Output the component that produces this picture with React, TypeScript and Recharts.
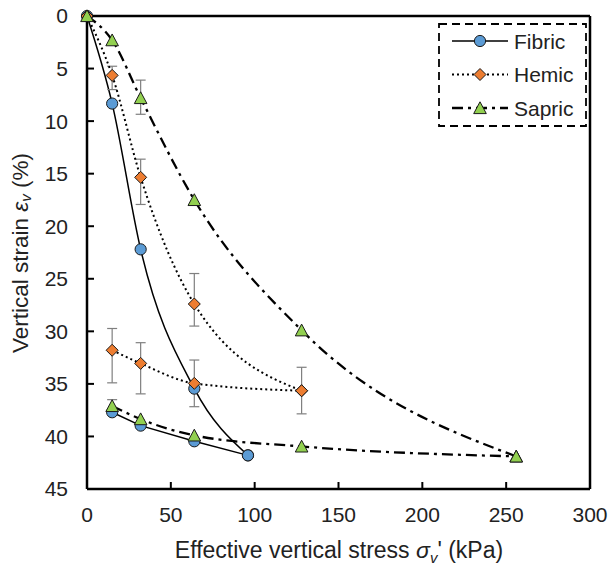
import React from 'react';
import { LineChart, Line, XAxis, YAxis, ErrorBar, ReferenceLine, Legend, Label } from 'recharts';

const FONT = '"Liberation Sans", Arial, sans-serif';
const TEXT = '#222';

const xTicks = [0, 50, 100, 150, 200, 250, 300];
const yTicks = [0, 5, 10, 15, 20, 25, 30, 35, 40, 45];

// Fibric
const fibricLoadX = [0, 15, 32, 64, 96];
const fibricLoadY = [0, 8.33, 22.2, 35.45, 41.8];
const fibricUnloadX = [15, 32, 64, 96];
const fibricUnloadY = [37.7, 38.97, 40.46, 41.8];

// Hemic (with error bars, [below, above])
const hemicLoadX = [0, 15, 32, 64, 128];
const hemicLoadY = [0, 5.65, 15.35, 27.4, 35.65];
const hemicLoadErrLo = [0, 0.87, 1.73, 2.9, 2.23];
const hemicLoadErrHi = [0, 1.35, 2.58, 2.1, 2.2];
const hemicUnloadX = [15, 32, 64, 128];
const hemicUnloadY = [31.8, 33.05, 34.95, 35.65];
const hemicUnloadErrLo = [2.07, 1.97, 2.22, 0];
const hemicUnloadErrHi = [3.1, 2.9, 2.22, 0];

// Sapric
const sapricLoadX = [0, 15, 32, 64, 128, 256];
const sapricLoadY = [0, 2.3, 7.8, 17.5, 29.9, 41.9];
const sapricLoadErrLo = [0, 0, 1.7, 0, 0, 0];
const sapricLoadErrHi = [0, 0, 1.55, 0, 0, 0];
const sapricUnloadX = [15, 32, 64, 128, 256];
const sapricUnloadY = [37.1, 38.35, 39.9, 40.95, 41.9];
const sapricUnloadErrLo = [0.6, 0, 0, 0, 0];
const sapricUnloadErrHi = [0.6, 0, 0, 0, 0];

type Pt = { x: number; y: number; err: number[] | null };

const toPoints = (xs: number[], ys: number[], lo?: number[], hi?: number[]): Pt[] =>
  xs.map((x, i) => ({
    x,
    y: ys[i],
    err: lo && hi && (lo[i] > 0 || hi[i] > 0) ? [lo[i], hi[i]] : null,
  }));

const series = [
  { name: 'Fibric', shape: 'circle', color: '#5B9BD5', dash: undefined, width: 1.5 },
  { name: 'Hemic', shape: 'diamond', color: '#ED7D31', dash: '2 3', width: 2 },
  { name: 'Sapric', shape: 'triangle', color: '#92D050', dash: '11 5 3 5', width: 2.3 },
];

function Marker({ shape, cx, cy, fill }: { shape: string; cx: number; cy: number; fill: string }) {
  const common = { fill, stroke: '#1a1a1a', strokeWidth: 1 };
  if (shape === 'circle') return <circle cx={cx} cy={cy} r={5.6} {...common} />;
  if (shape === 'diamond')
    return <polygon points={`${cx},${cy - 6} ${cx + 6},${cy} ${cx},${cy + 6} ${cx - 6},${cy}`} {...common} />;
  return <polygon points={`${cx},${cy - 6.2} ${cx + 6.3},${cy + 5.6} ${cx - 6.3},${cy + 5.6}`} {...common} />;
}

const dotFor = (i: number) => (p: any) => {
  const s = series[i];
  if (p.cx == null || p.cy == null) return <g key={p.index} />;
  return <Marker key={p.index} shape={s.shape} cx={p.cx} cy={p.cy} fill={s.color} />;
};

function LegendBox() {
  return (
    <svg width={150} height={106} style={{ display: 'block' }}>
      <rect x={1} y={1} width={147} height={102} fill="#fff" stroke="#000" strokeWidth={1.8} strokeDasharray="8 5" />
      {series.map((s, i) => {
        const cy = 18 + i * 33.5;
        return (
          <g key={s.name}>
            <line x1={14} x2={70} y1={cy} y2={cy} stroke="#000" strokeWidth={s.width} strokeDasharray={s.dash} />
            <Marker shape={s.shape} cx={42} cy={cy} fill={s.color} />
            <text x={76} y={cy} dominantBaseline="central" fontSize={21} fontFamily={FONT} fill={TEXT}>
              {s.name}
            </text>
          </g>
        );
      })}
    </svg>
  );
}

const axisLine = { stroke: '#000', strokeWidth: 2.5 };
const tickLine = { stroke: '#000', strokeWidth: 2 };
const tickStyle = { fill: TEXT, fontSize: 21, fontFamily: FONT };

export default function App() {
  const lines = [
    { key: 'fl', i: 0, data: toPoints(fibricLoadX, fibricLoadY), type: 'monotone' },
    { key: 'fu', i: 0, data: toPoints(fibricUnloadX, fibricUnloadY), type: 'linear' },
    { key: 'hl', i: 1, data: toPoints(hemicLoadX, hemicLoadY, hemicLoadErrLo, hemicLoadErrHi), type: 'monotone', err: true },
    { key: 'hu', i: 1, data: toPoints(hemicUnloadX, hemicUnloadY, hemicUnloadErrLo, hemicUnloadErrHi), type: 'monotone', err: true },
    { key: 'sl', i: 2, data: toPoints(sapricLoadX, sapricLoadY, sapricLoadErrLo, sapricLoadErrHi), type: 'monotone', err: true },
    { key: 'su', i: 2, data: toPoints(sapricUnloadX, sapricUnloadY, sapricUnloadErrLo, sapricUnloadErrHi), type: 'monotone', err: true },
  ];

  return (
    <div style={{ position: 'absolute', left: 0, top: 0, background: '#fff' }}>
      <LineChart width={609} height={566} margin={{ top: 16, right: 19, bottom: 0, left: 0 }} style={{ fontFamily: FONT }}>
        <XAxis
          type="number"
          dataKey="x"
          domain={[0, 300]}
          ticks={xTicks}
          interval={0}
          height={77}
          tickSize={-7}
          tickMargin={25}
          axisLine={axisLine}
          tickLine={tickLine}
          tick={tickStyle}
        >
          <Label
            content={() => (
              <text x={339} y={558} textAnchor="middle" fontSize={23} fontFamily={FONT} fill={TEXT}>
                Effective vertical stress <tspan fontStyle="italic">σ</tspan>
                <tspan fontStyle="italic" fontSize={15} dy={5}>v</tspan>
                <tspan dy={-5}>' (kPa)</tspan>
              </text>
            )}
          />
        </XAxis>
        <YAxis
          type="number"
          dataKey="y"
          reversed
          domain={[0, 45]}
          ticks={yTicks}
          interval={0}
          width={87}
          tickSize={-7}
          tickMargin={26}
          axisLine={axisLine}
          tickLine={tickLine}
          tick={tickStyle}
        >
          <Label
            content={() => (
              <text
                x={20}
                y={253}
                transform="rotate(-90 20 253)"
                textAnchor="middle"
                dominantBaseline="central"
                fontSize={22.5}
                fontFamily={FONT}
                fill={TEXT}
              >
                Vertical strain <tspan fontStyle="italic">ε</tspan>
                <tspan fontStyle="italic" fontSize={15} dy={5}>v</tspan>
                <tspan dy={-5}> (%)</tspan>
              </text>
            )}
          />
        </YAxis>
        <ReferenceLine y={0} stroke="#000" strokeWidth={2.5} />
        <ReferenceLine x={300} stroke="#000" strokeWidth={2.5} />
        {lines.map((l) => {
          const s = series[l.i];
          return (
            <Line
              key={l.key}
              data={l.data}
              dataKey="y"
              type={l.type as any}
              stroke="#000"
              strokeWidth={s.width}
              strokeDasharray={s.dash}
              dot={dotFor(l.i)}
              activeDot={false}
              isAnimationActive={false}
              legendType="none"
            >
              {l.err ? <ErrorBar dataKey="err" direction="y" width={5} stroke="#7f7f7f" strokeWidth={1.2} /> : null}
            </Line>
          );
        })}
        <Legend
          layout="horizontal"
          verticalAlign="middle"
          align="center"
          wrapperStyle={{ top: 23, left: 438, width: 150, height: 106 }}
          content={() => <LegendBox />}
        />
      </LineChart>
    </div>
  );
}
